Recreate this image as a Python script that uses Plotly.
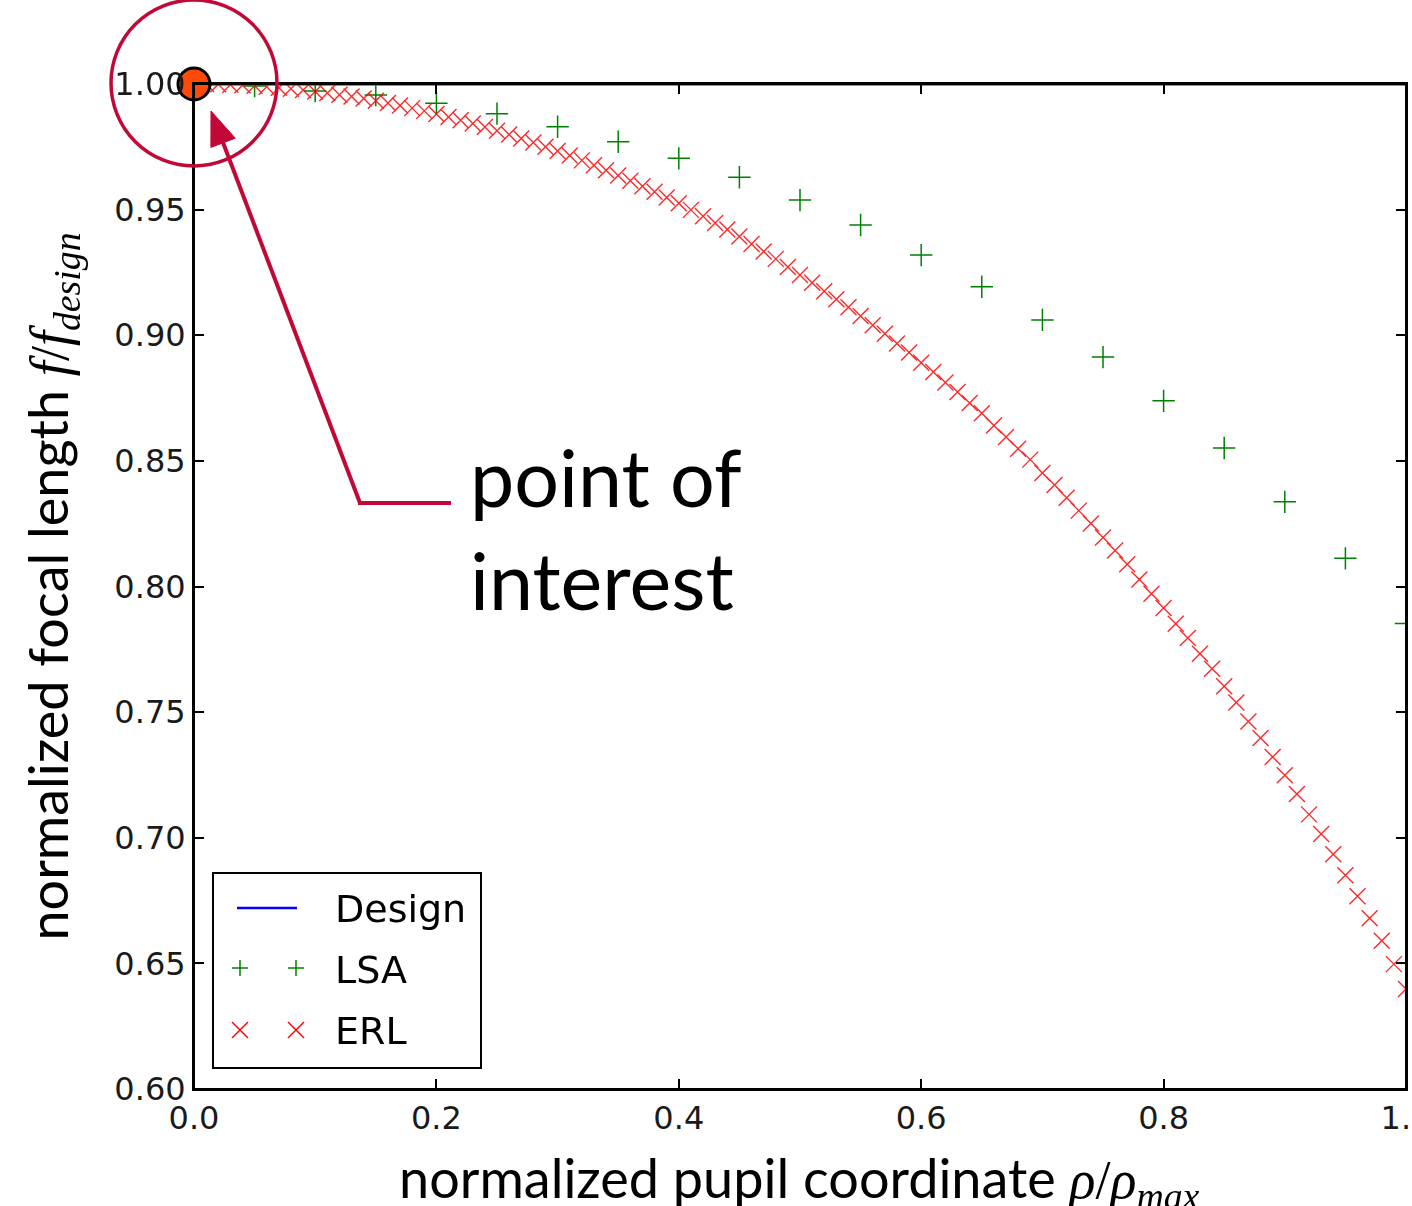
import plotly.graph_objects as go

# ---- data ----------------------------------------------------------------
# pupil coordinate samples of the longitudinal spherical aberration (LSA)
rho_lsa = [0.00, 0.05, 0.10, 0.15, 0.20, 0.25, 0.30, 0.35, 0.40, 0.45, 0.50,
           0.55, 0.60, 0.65, 0.70, 0.75, 0.80, 0.85, 0.90, 0.95, 1.00]
f_lsa = [1.0000, 0.9992, 0.9972, 0.9956, 0.9923, 0.9882, 0.9830, 0.9770,
         0.9704, 0.9629, 0.9538, 0.9439, 0.9319, 0.9193, 0.9061, 0.8913,
         0.8739, 0.8551, 0.8337, 0.8112, 0.7853]

# pupil coordinate samples of the ERL curve
rho_erl = [0.00, 0.01, 0.02, 0.03, 0.04, 0.05, 0.06, 0.07, 0.08, 0.09,
           0.10, 0.11, 0.12, 0.13, 0.14, 0.15, 0.16, 0.17, 0.18, 0.19,
           0.20, 0.21, 0.22, 0.23, 0.24, 0.25, 0.26, 0.27, 0.28, 0.29,
           0.30, 0.31, 0.32, 0.33, 0.34, 0.35, 0.36, 0.37, 0.38, 0.39,
           0.40, 0.41, 0.42, 0.43, 0.44, 0.45, 0.46, 0.47, 0.48, 0.49,
           0.50, 0.51, 0.52, 0.53, 0.54, 0.55, 0.56, 0.57, 0.58, 0.59,
           0.60, 0.61, 0.62, 0.63, 0.64, 0.65, 0.66, 0.67, 0.68, 0.69,
           0.70, 0.71, 0.72, 0.73, 0.74, 0.75, 0.76, 0.77, 0.78, 0.79,
           0.80, 0.81, 0.82, 0.83, 0.84, 0.85, 0.86, 0.87, 0.88, 0.89,
           0.90, 0.91, 0.92, 0.93, 0.94, 0.95, 0.96, 0.97, 0.98, 0.99,
           1.00]
f_erl = [1.0000, 1.0000, 0.9999, 0.9997, 0.9995, 0.9993, 0.9989, 0.9985, 0.9981, 0.9976,
         0.9970, 0.9964, 0.9957, 0.9950, 0.9942, 0.9933, 0.9924, 0.9914, 0.9904, 0.9893,
         0.9881, 0.9869, 0.9856, 0.9843, 0.9829, 0.9814, 0.9799, 0.9783, 0.9767, 0.9750,
         0.9733, 0.9715, 0.9696, 0.9677, 0.9657, 0.9636, 0.9615, 0.9593, 0.9571, 0.9548,
         0.9525, 0.9499, 0.9474, 0.9447, 0.9421, 0.9393, 0.9363, 0.9333, 0.9304, 0.9272,
         0.9240, 0.9209, 0.9175, 0.9143, 0.9111, 0.9077, 0.9040, 0.9006, 0.8967, 0.8931,
         0.8891, 0.8854, 0.8812, 0.8774, 0.8730, 0.8690, 0.8641, 0.8595, 0.8548, 0.8505,
         0.8452, 0.8404, 0.8353, 0.8302, 0.8251, 0.8195, 0.8143, 0.8089, 0.8028, 0.7971,
         0.7914, 0.7852, 0.7795, 0.7732, 0.7673, 0.7603, 0.7538, 0.7463, 0.7397, 0.7321,
         0.7249, 0.7174, 0.7093, 0.7015, 0.6934, 0.6851, 0.6767, 0.6680, 0.6590, 0.6497,
         0.6398]

# ideal (design) focal length
rho_design = [0.0, 1.0]
f_design = [1.0, 1.0]

# highlighted point
rho_poi = [0.0]
f_poi = [1.0]

x_ticks = [0.0, 0.2, 0.4, 0.6, 0.8, 1.0]
x_tick_text = ["0.0", "0.2", "0.4", "0.6", "0.8", "1.0"]
y_ticks = [0.60, 0.65, 0.70, 0.75, 0.80, 0.85, 0.90, 0.95, 1.00]
y_tick_text = ["0.60", "0.65", "0.70", "0.75", "0.80", "0.85", "0.90", "0.95", "1.00"]

legend_names = ["Design", "LSA", "ERL"]

# ---- styling ---------------------------------------------------------------
W, H = 1412, 1206
PL, PR, PT, PB = 194, 1406, 84, 1089   # plot area edges in pixels
CRIMSON = "#C20836"
BLUE = "#0000FF"
GREEN = "#008000"
RED = "#FF0000"
TICK_FONT = dict(family="DejaVu Sans", size=32, color="#1a1a1a")
TITLE_FAMILY = "Lato, Carlito, Open Sans, sans-serif"
MATH = "Liberation Serif, DejaVu Serif, serif"


def px(xp):
    """pixel column -> paper x"""
    return (xp - PL) / (PR - PL)


def py(yp):
    """pixel row -> paper y"""
    return (PB - yp) / (PB - PT)


fig = go.Figure()

fig.add_trace(go.Scatter(
    x=rho_design, y=f_design, mode="lines", name=legend_names[0],
    line=dict(color=BLUE, width=3), showlegend=False))

fig.add_trace(go.Scatter(
    x=rho_lsa, y=f_lsa, mode="markers", name=legend_names[1],
    marker=dict(symbol="cross-thin", size=16, line=dict(color=GREEN, width=1.5)),
    showlegend=False))

fig.add_trace(go.Scatter(
    x=rho_erl, y=f_erl, mode="markers", name=legend_names[2],
    marker=dict(symbol="x-thin", size=16, line=dict(color=RED, width=1.4)),
    opacity=0.85, showlegend=False))

shapes = []
annotations = []

# black frame drawn over the traces (matplotlib-style spines)
shapes.append(dict(type="rect", xref="paper", yref="paper",
                   x0=0, x1=1, y0=0, y1=1,
                   line=dict(color="black", width=2), layer="above"))

# legend frame and samples
shapes.append(dict(type="rect", xref="paper", yref="paper",
                   x0=px(213), x1=px(481), y0=py(1068), y1=py(873),
                   line=dict(color="black", width=2), fillcolor="white", layer="above"))
shapes.append(dict(type="line", xref="paper", yref="paper",
                   x0=px(237), x1=px(297), y0=py(908), y1=py(908),
                   line=dict(color=BLUE, width=2.5), layer="above"))
arm = 8
for cx in (240, 296):
    # "+" sample
    shapes.append(dict(type="line", xref="paper", yref="paper",
                       x0=px(cx - arm), x1=px(cx + arm), y0=py(968), y1=py(968),
                       line=dict(color=GREEN, width=1.5), layer="above"))
    shapes.append(dict(type="line", xref="paper", yref="paper",
                       x0=px(cx), x1=px(cx), y0=py(968 - arm), y1=py(968 + arm),
                       line=dict(color=GREEN, width=1.5), layer="above"))
    # "x" sample
    shapes.append(dict(type="line", xref="paper", yref="paper",
                       x0=px(cx - arm), x1=px(cx + arm), y0=py(1030 - arm), y1=py(1030 + arm),
                       line=dict(color=RED, width=1.4), layer="above"))
    shapes.append(dict(type="line", xref="paper", yref="paper",
                       x0=px(cx - arm), x1=px(cx + arm), y0=py(1030 + arm), y1=py(1030 - arm),
                       line=dict(color=RED, width=1.4), layer="above"))

for name, ly in zip(legend_names, (909, 970, 1031)):
    annotations.append(dict(text=name, xref="paper", yref="paper",
                            x=px(333), y=py(ly), xanchor="left", yanchor="middle",
                            showarrow=False,
                            font=dict(family="DejaVu Sans", size=38, color="black")))

# highlight circle around the point of interest
R = 83
shapes.append(dict(type="circle", xref="paper", yref="paper",
                   xsizemode="pixel", ysizemode="pixel",
                   xanchor=0, yanchor=1,
                   x0=-R, x1=R, y0=-R + 1, y1=R + 1,
                   line=dict(color=CRIMSON, width=3.5), layer="above"))

# callout: horizontal leader, slanted shaft and a filled arrow head
tail = (358, 503)
elbow = (360, 503)
tip = (211, 111)
head_base = (223.1, 142.8)
head_l = (235.3, 138.2)
head_r = (210.9, 147.4)
shapes.append(dict(type="line", xref="paper", yref="paper",
                   x0=px(451), x1=px(tail[0]), y0=py(tail[1]), y1=py(tail[1]),
                   line=dict(color=CRIMSON, width=4), layer="above"))
shapes.append(dict(type="line", xref="paper", yref="paper",
                   x0=px(elbow[0]), x1=px(head_base[0]), y0=py(elbow[1]), y1=py(head_base[1]),
                   line=dict(color=CRIMSON, width=4), layer="above"))
shapes.append(dict(type="path", xref="paper", yref="paper",
                   path=(f"M {px(tip[0])},{py(tip[1])} "
                         f"L {px(head_l[0])},{py(head_l[1])} "
                         f"L {px(head_r[0])},{py(head_r[1])} Z"),
                   fillcolor=CRIMSON, line=dict(color=CRIMSON, width=1), layer="above"))

annotations.append(dict(text="point of<br>interest", xref="paper", yref="paper",
                        x=px(468), y=py(528), xanchor="left", yanchor="middle",
                        align="left", showarrow=False,
                        font=dict(family=TITLE_FAMILY, size=79, color="black")))

# x axis title, set low so its subscript runs off the bottom edge
x_title = ("normalized pupil coordinate "
           f"<span style='font-family:{MATH}'><i>ρ</i>/<i>ρ</i><sub><i>max</i></sub></span>")
annotations.append(dict(text=x_title, xref="paper", yref="paper",
                        x=px(397), y=py(1181), xanchor="left", yanchor="middle",
                        showarrow=False,
                        font=dict(family=TITLE_FAMILY, size=54, color="black")))

y_title = ("normalized focal length "
           f"<span style='font-family:{MATH}'><i>f</i>/<i>f</i><sub><i>design</i></sub></span>")

# highlighted point, drawn last so it sits above the frame
fig.add_trace(go.Scatter(
    x=rho_poi, y=f_poi, mode="markers", name="point of interest",
    marker=dict(symbol="circle", size=32, color="#FF4A0A",
                line=dict(color="black", width=3)),
    cliponaxis=False, showlegend=False))

axis_common = dict(
    showline=True, linecolor="black", linewidth=2, mirror="ticks",
    ticks="inside", ticklen=10, tickwidth=1.5, tickcolor="black",
    showgrid=False, zeroline=False, tickfont=TICK_FONT, automargin=False,
    ticklabeloverflow="allow",
)

fig.update_layout(
    width=W, height=H,
    margin=dict(l=PL, r=W - PR, t=PT, b=H - PB),
    paper_bgcolor="white", plot_bgcolor="white",
    showlegend=False,
    shapes=shapes, annotations=annotations,
    xaxis=dict(range=[0, 1], tickvals=x_ticks, ticktext=x_tick_text,
               **axis_common),
    yaxis=dict(range=[0.60, 1.00], tickvals=y_ticks, ticktext=y_tick_text,
               title=dict(text=y_title, standoff=28,
                          font=dict(family=TITLE_FAMILY, size=54, color="black")),
               **axis_common),
)

fig.write_html("out.html")
